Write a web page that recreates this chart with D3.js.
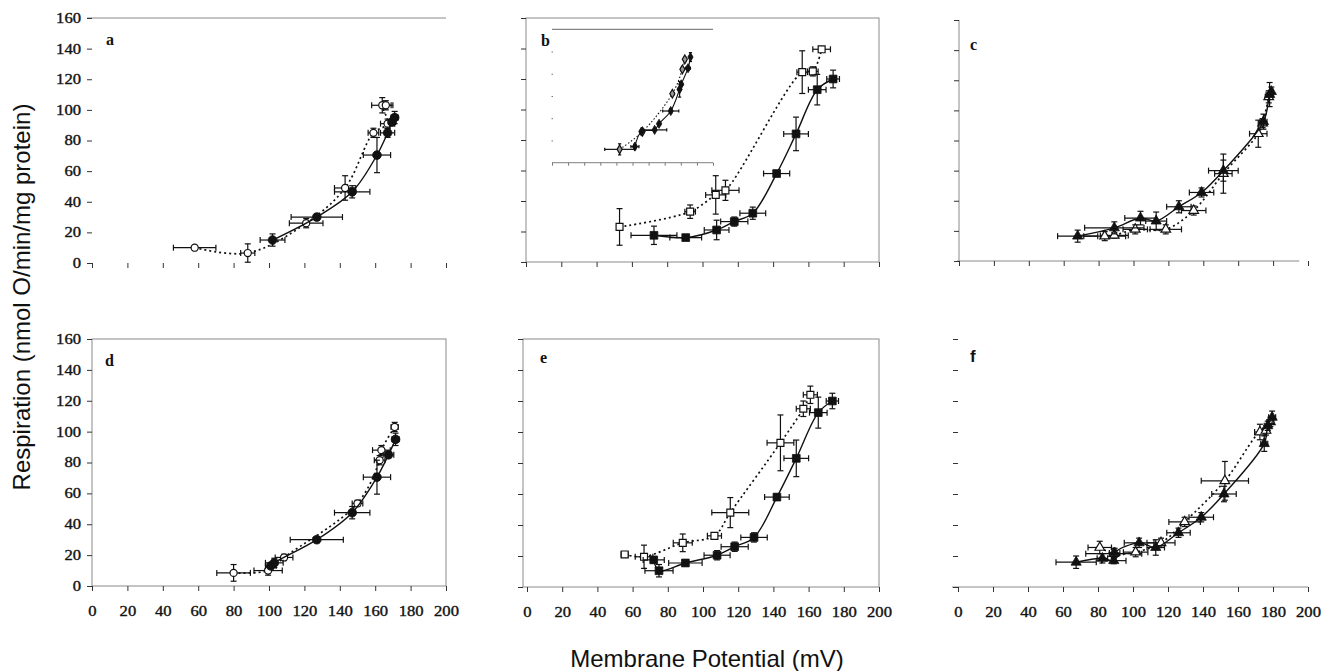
<!DOCTYPE html>
<html><head><meta charset="utf-8">
<script src="https://cdn.jsdelivr.net/npm/d3@7"></script>
<style>body{margin:0;background:#fff}</style>
</head><body>
<svg id="chart" width="1322" height="671"></svg>
<script>
// ---------- data (x = membrane potential mV, y = respiration, ex/ey = error) ----------
const xTickValues = [0,20,40,60,80,100,120,140,160,180,200];
const yTickValues = [0,20,40,60,80,100,120,140,160];
const panelLetters = ["a","b","c","d","e","f"];
const yTitle = "Respiration (nmol O/min/mg protein)";
const xTitle = "Membrane Potential (mV)";

const aOpen = [
  {x:58,y:10,ex:12,ey:0},{x:88,y:6.5,ex:4,ey:6},{x:121,y:26,ex:9.5,ey:3},
  {x:143,y:49,ex:6,ey:8},{x:159,y:85,ex:3,ey:3},{x:167,y:91,ex:4,ey:3},
  {x:164,y:103,ex:6,ey:5},{x:166,y:103,ex:3,ey:3}];
const aFilled = [
  {x:102,y:15,ex:7,ey:4},{x:127,y:30,ex:14.5,ey:2},{x:147,y:46.5,ex:10,ey:4},
  {x:161,y:70.5,ex:7.7,ey:11.5},{x:167,y:85,ex:4,ey:3},{x:169.5,y:92,ex:2,ey:2},{x:171,y:95,ex:2,ey:4}];

const bOpen = [
  {x:53,y:23,ex:0,ey:12},{x:93,y:33,ex:3,ey:4.4},{x:107.5,y:44,ex:5.7,ey:12.6},
  {x:113,y:47,ex:7.7,ey:6.6},{x:156.5,y:124.5,ex:3,ey:14},{x:162.5,y:125,ex:3,ey:3},
  {x:167.5,y:139.5,ex:5,ey:1}];
const bFilled = [
  {x:72.5,y:17.5,ex:13,ey:6},{x:90.5,y:16,ex:9,ey:1},{x:108,y:21,ex:7,ey:6.4},
  {x:118,y:26.5,ex:7.7,ey:3},{x:128.5,y:32,ex:7.3,ey:4},{x:142,y:58,ex:7.4,ey:1},
  {x:153,y:84,ex:7,ey:11},{x:165,y:113,ex:5,ey:10},{x:174,y:120,ex:3.6,ey:5.8}];
// inset of panel b (x 0-200 mV, y 0-120)
const insetOpen = [
  {x:84,y:12,ex:18.5,ey:5},{x:112.5,y:28,ex:2,ey:1},{x:149.5,y:62,ex:2,ey:1},
  {x:162,y:84,ex:2,ey:2},{x:165,y:93,ex:1,ey:2}];
const insetFilled = [
  {x:103,y:14.5,ex:5,ey:2},{x:111,y:28,ex:2,ey:1},{x:127.5,y:29.5,ex:15,ey:1},{x:133,y:35,ex:2,ey:1},
  {x:147.5,y:46.5,ex:10,ey:2},{x:158.5,y:66,ex:2,ey:7},{x:160.5,y:70.5,ex:2,ey:2},
  {x:169,y:85,ex:3,ey:2},{x:172,y:95,ex:1,ey:4}];

const cOpen = [
  {x:83.5,y:16.5,ex:12,ey:3},{x:89,y:17,ex:8,ey:2},{x:101,y:21,ex:7,ey:3},
  {x:118.5,y:21,ex:9,ey:3},{x:134.5,y:33.5,ex:7,ey:3},{x:151.5,y:58,ex:5,ey:13},
  {x:171.5,y:84.5,ex:5,ey:9},{x:174,y:91.5,ex:2,ey:3},{x:177.5,y:109,ex:2,ey:4}];
const cFilled = [
  {x:68,y:16.5,ex:11.5,ey:4},{x:89,y:22,ex:17,ey:4},{x:104,y:28.5,ex:9,ey:4.5},
  {x:113,y:26.5,ex:6,ey:6},{x:126,y:36,ex:7,ey:4},{x:139,y:45.5,ex:7,ey:3},
  {x:151.5,y:60,ex:8.5,ey:7},{x:174.5,y:92.5,ex:2,ey:5},{x:178,y:110.5,ex:2,ey:8},{x:179,y:112.5,ex:1,ey:3}];

const dOpen = [
  {x:80,y:8.5,ex:9.5,ey:5.4},{x:99.5,y:10,ex:8,ey:3},{x:108.5,y:18.5,ex:5,ey:2},
  {x:150,y:53.5,ex:3,ey:2},{x:162.5,y:81.5,ex:3,ey:3},{x:163.5,y:88,ex:5,ey:3},
  {x:171,y:103,ex:2,ey:3}];
const dFilled = [
  {x:101,y:13,ex:3,ey:2},{x:103,y:15,ex:5,ey:3},{x:127,y:30,ex:15,ey:2},
  {x:147,y:47.5,ex:10,ey:4},{x:161,y:70.5,ex:7.7,ey:11},{x:167.5,y:85,ex:3,ey:2},
  {x:171.5,y:95,ex:2,ey:4}];

const eOpen = [
  {x:55.5,y:21,ex:2,ey:1},{x:66.5,y:19.5,ex:5,ey:7.5},{x:88.5,y:28.5,ex:5.4,ey:5.7},
  {x:106.5,y:33,ex:4,ey:1},{x:115.5,y:48,ex:10.5,ey:9.7},{x:144,y:93,ex:7.6,ey:18},
  {x:157,y:115,ex:4,ey:5},{x:161,y:124,ex:4,ey:5.6}];
const eFilled = [
  {x:72,y:17.5,ex:6,ey:2},{x:75,y:10.5,ex:8,ey:4},{x:90,y:15.5,ex:9.5,ey:2},
  {x:108,y:20.5,ex:7.4,ey:3},{x:118,y:26,ex:7.7,ey:3},{x:129,y:32,ex:7.5,ey:3},
  {x:142,y:58,ex:7,ey:2},{x:153,y:83,ex:7,ey:11.8},{x:165.5,y:112.5,ex:5,ey:10},
  {x:173.5,y:120,ex:3.5,ey:5}];

const fOpen = [
  {x:81,y:25.5,ex:6.7,ey:4},{x:89,y:21.5,ex:16,ey:3},{x:101.5,y:22.5,ex:7,ey:3},
  {x:116,y:28.5,ex:8,ey:3},{x:129.5,y:42,ex:9,ey:3},{x:152.5,y:68.5,ex:13.5,ey:12.5},
  {x:172.5,y:100,ex:3,ey:5},{x:176,y:101,ex:2,ey:3},{x:178.5,y:106.5,ex:2,ey:3}];
const fFilled = [
  {x:67.5,y:16,ex:11.5,ey:4},{x:82.5,y:18.5,ex:3,ey:3},{x:89,y:17,ex:7,ey:2},
  {x:89.5,y:22,ex:3,ey:3},{x:103.5,y:28.5,ex:8.5,ey:3},{x:113,y:25.5,ex:5,ey:5},
  {x:126,y:35,ex:6.7,ey:3},{x:139,y:45,ex:7,ey:3},{x:152,y:60,ex:7,ey:5},
  {x:175,y:92.5,ex:2,ey:5},{x:177,y:104,ex:2,ey:3},{x:179.5,y:109.5,ex:2,ey:4}];

// ---------- layout ----------
const panels = [
  {letter:panelLetters[0], xr:[92,446], yr:[263,18], frame:"a", shape:"circle", open:aOpen, filled:aFilled, yLab:true, xLab:false, lp:[106,45]},
  {letter:panelLetters[1], xr:[526,879], yr:[262,18], frame:"box", shape:"square", open:bOpen, filled:bFilled, yLab:false, xLab:false, lp:[541,46], box:[526,879]},
  {letter:panelLetters[2], xr:[959,1308], yr:[261,20], frame:"L", shape:"triangle", open:cOpen, filled:cFilled, yLab:false, xLab:false, lp:[970,50]},
  {letter:panelLetters[3], xr:[92,446], yr:[586,339], frame:"box", shape:"circle", open:dOpen, filled:dFilled, yLab:true, xLab:true, lp:[105,366], box:[92,446]},
  {letter:panelLetters[4], xr:[527,879], yr:[587,339], frame:"box", shape:"square", open:eOpen, filled:eFilled, yLab:false, xLab:true, lp:[540,363], box:[523,879]},
  {letter:panelLetters[5], xr:[958,1308], yr:[587,339], frame:"bottom", shape:"triangle", open:fOpen, filled:fFilled, yLab:false, xLab:true, lp:[970,362]}
];

const svg = d3.select("#chart");
const axisCol = "#8a8a8a";

function symbolFor(shape){
  return shape==="circle"?d3.symbolCircle:shape==="square"?d3.symbolSquare:shape==="triangle"?d3.symbolTriangle:d3.symbolDiamond;
}

function drawSeries(g, x, y, data, opts){
  const eb = g.append("g").attr("stroke","#111").attr("stroke-width",1.2).attr("fill","none");
  const cap = opts.cap;
  data.forEach(d=>{
    if(d.ex>0){
      eb.append("line").attr("x1",x(d.x-d.ex)).attr("x2",x(d.x+d.ex)).attr("y1",y(d.y)).attr("y2",y(d.y));
      eb.append("line").attr("x1",x(d.x-d.ex)).attr("x2",x(d.x-d.ex)).attr("y1",y(d.y)-cap).attr("y2",y(d.y)+cap);
      eb.append("line").attr("x1",x(d.x+d.ex)).attr("x2",x(d.x+d.ex)).attr("y1",y(d.y)-cap).attr("y2",y(d.y)+cap);
    }
    if(d.ey>0){
      eb.append("line").attr("x1",x(d.x)).attr("x2",x(d.x)).attr("y1",y(d.y-d.ey)).attr("y2",y(d.y+d.ey));
      eb.append("line").attr("x1",x(d.x)-cap).attr("x2",x(d.x)+cap).attr("y1",y(d.y-d.ey)).attr("y2",y(d.y-d.ey));
      eb.append("line").attr("x1",x(d.x)-cap).attr("x2",x(d.x)+cap).attr("y1",y(d.y+d.ey)).attr("y2",y(d.y+d.ey));
    }
  });
  const line = d3.line().x(d=>x(d.x)).y(d=>y(d.y)).curve(d3.curveCatmullRom.alpha(0.5));
  g.append("path").datum(data).attr("class", opts.dotted?"dotline":"solidline").attr("d",line).attr("fill","none").attr("stroke","#111")
    .attr("stroke-width",opts.dotted?1.7:1.4).attr("stroke-dasharray",opts.dotted?"2,3":null);
  const sym = d3.symbol().type(symbolFor(opts.shape)).size(opts.size);
  g.append("g").selectAll("path").data(data).join("path")
    .attr("transform",d=>`translate(${x(d.x)},${y(d.y)})`)
    .attr("d",sym)
    .attr("fill",opts.dotted?(opts.fillOpen||"#fff"):"#111")
    .attr("stroke","#111").attr("stroke-width",opts.dotted?1.2:0.8);
}

panels.forEach(p=>{
  const x = d3.scaleLinear().domain([0,200]).range(p.xr);
  const y = d3.scaleLinear().domain([0,160]).range(p.yr);
  const g = svg.append("g");
  const fr = g.append("g").attr("stroke",axisCol).attr("stroke-width",1).attr("fill","none");
  if(p.frame==="a"){
    fr.append("line").attr("x1",87).attr("x2",446).attr("y1",y(160)).attr("y2",y(160));
  } else if(p.frame==="box"){
    fr.append("rect").attr("x",p.box[0]).attr("y",y(160)).attr("width",p.box[1]-p.box[0]).attr("height",y(0)-y(160));
  } else if(p.frame==="L"){
    fr.append("line").attr("x1",x(0)).attr("x2",x(0)).attr("y1",y(160)).attr("y2",y(0));
    fr.append("line").attr("x1",x(0)-2).attr("x2",x(195)).attr("y1",y(0)).attr("y2",y(0));
  } else if(p.frame==="bottom"){
    fr.append("line").attr("x1",x(-3.5)).attr("x2",x(200)).attr("y1",y(0)).attr("y2",y(0));
  }
  const xa = d3.axisBottom(x).tickValues(xTickValues).tickSize(5).tickFormat(p.xLab?d3.format("d"):"");
  const ya = d3.axisLeft(y).tickValues(yTickValues).tickSize(5).tickFormat(p.yLab?d3.format("d"):"");
  const gx = g.append("g").attr("transform",`translate(0,${y(0)})`).call(xa);
  const gy = g.append("g").attr("transform",`translate(${p.frame==="box"?p.box[0]:x(0)},0)`).call(ya);
  [gx,gy].forEach(ax=>{
    ax.select(".domain").remove();
    ax.selectAll(".tick line").attr("stroke","#333").attr("stroke-width",1);
    ax.selectAll("text")
      .attr("font-family","'Liberation Serif', 'Times New Roman', serif").attr("font-size",14)
      .attr("fill","#111").attr("stroke","#111").attr("stroke-width",0.35)
      .attr("lengthAdjust","spacingAndGlyphs")
      .attr("textLength",function(){return this.textContent.length*8.3;});
  });
  gx.selectAll("text").attr("dy","1.55em");
  gy.selectAll("text").attr("x",-11);
  g.append("text").attr("x",p.lp[0]).attr("y",p.lp[1]).text(p.letter)
    .attr("font-family", p.letter==="f" ? "'Liberation Sans', sans-serif" : "'Liberation Serif', serif")
    .attr("font-weight","bold").attr("font-size",p.letter==="f"?17:16).attr("fill","#111");
  const cap = 3;
  drawSeries(g, x, y, p.open, {dotted:true, shape:p.shape, size:p.shape==="triangle"?40:(p.shape==="circle"?40:48), cap});
  drawSeries(g, x, y, p.filled, {dotted:false, shape:p.shape, size:p.shape==="triangle"?45:60, cap});

  if(p.letter==="b"){
    const ix = d3.scaleLinear().domain([0,200]).range([552,713]);
    const iy = d3.scaleLinear().domain([0,120]).range([162.7,29.3]);
    const ig = g.append("g");
    ig.append("line").attr("x1",552).attr("x2",713).attr("y1",iy(120)).attr("y2",iy(120)).attr("stroke","#666");
    ig.append("line").attr("x1",552).attr("x2",713).attr("y1",iy(0)).attr("y2",iy(0)).attr("stroke","#999").attr("stroke-width",1.2);
    const ixa = d3.axisBottom(ix).tickValues(xTickValues).tickSize(3).tickFormat("");
    const iya = d3.axisLeft(iy).tickValues([20,40,60,80,100]).tickSize(1.5).tickFormat("");
    const igx = ig.append("g").attr("transform",`translate(0,${iy(0)})`).call(ixa);
    const igy = ig.append("g").attr("transform",`translate(553,0)`).call(iya);
    [igx,igy].forEach(ax=>{ax.select(".domain").remove(); ax.selectAll(".tick line").attr("stroke","#777");});
    drawSeries(ig, ix, iy, insetOpen, {dotted:true, shape:"diamond", size:22, cap:1.6, fillOpen:"#999"});
    drawSeries(ig, ix, iy, insetFilled, {dotted:false, shape:"diamond", size:24, cap:1.6});
    ig.selectAll("path.dotline").attr("stroke-width",1.1).attr("stroke-dasharray","1.5,2");
    ig.selectAll("path.solidline").attr("stroke-width",1.1);
  }
});

svg.append("text").attr("transform","translate(30,297) rotate(-90)").attr("text-anchor","middle")
  .attr("font-family","'Liberation Sans', Arial, sans-serif").attr("font-size",24).attr("fill","#111").text(yTitle);
svg.append("text").attr("x",707).attr("y",667).attr("text-anchor","middle")
  .attr("font-family","'Liberation Sans', Arial, sans-serif").attr("font-size",24).attr("fill","#111").text(xTitle);
</script>
</body></html>
